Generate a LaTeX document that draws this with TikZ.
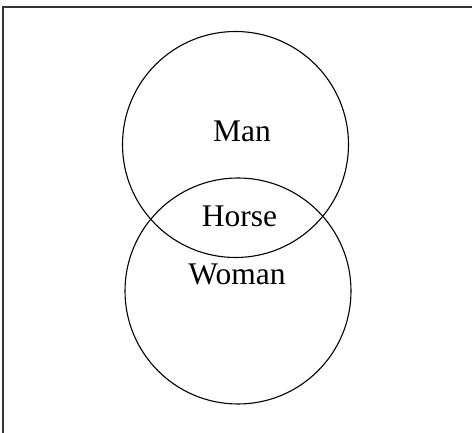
\documentclass[tikz,border=0pt]{standalone}
\usepackage{fontspec}
\setmainfont{Liberation Serif}
\begin{document}
\begin{tikzpicture}[x=1pt,y=-1pt,
  ring/.style={draw=black,line width=1.1pt},
  lbl/.style={font=\fontsize{31.5}{36}\selectfont,inner sep=0pt},
  frame/.style={draw=black!80,line width=1.4pt}]
\useasboundingbox (0,0) rectangle (472,433);
\draw[frame] (3,433) -- (3,7) -- (472,7);
\node[ring,circle,minimum size=226pt,inner sep=0pt] (man) at (235.5,144.5) {};
\node[ring,circle,minimum size=226pt,inner sep=0pt] (woman) at (238,291) {};
\node[lbl] (manl) at (242,131) {Man};
\node[lbl] (horse) at (239.5,216) {Horse};
\node[lbl] (womanl) at (237,274) {Woman};
\end{tikzpicture}
\end{document}
